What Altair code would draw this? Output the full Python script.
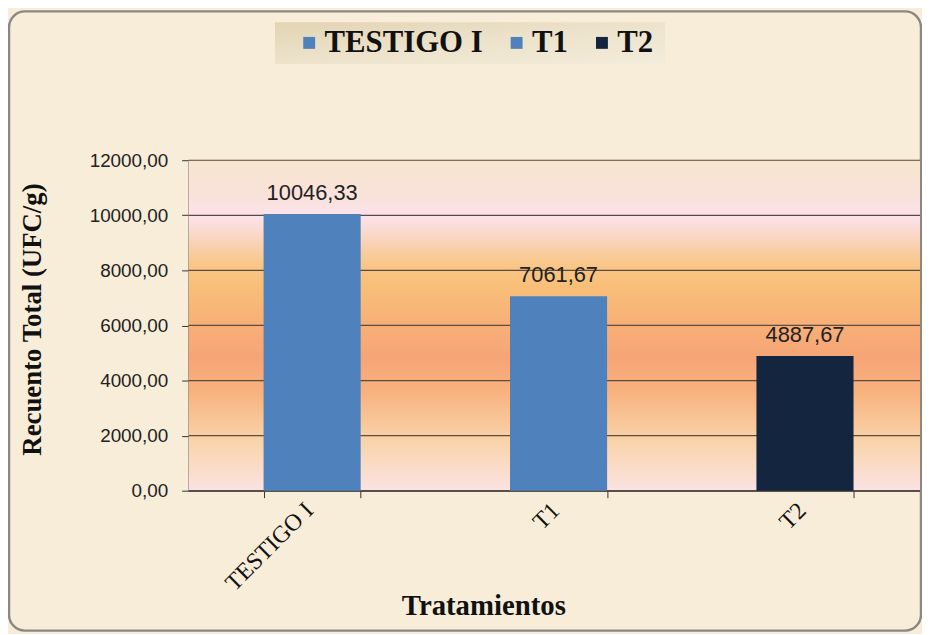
import altair as alt
import pandas as pd

categories = ["TESTIGO I", "T1", "T2"]
values = [10046.33, 7061.67, 4887.67]
bar_colors = ["#4F81BD", "#4F81BD", "#14263F"]
y_ticks = [0, 2000, 4000, 6000, 8000, 10000, 12000]

W, H = 737, 333

df = pd.DataFrame({"cat": categories, "val": values})
grid_df = pd.DataFrame({"val": y_ticks})
one = pd.DataFrame({"k": [0]})

x_scale = alt.Scale(domain=categories, paddingInner=0.606, paddingOuter=0.287, align=0.53)
y_scale = alt.Scale(domain=[0, 12000], nice=False)

y_axis = alt.Axis(
    title="Recuento Total (UFC/g)", values=y_ticks,
    labelExpr="replace(format(datum.value, '.2f'), '.', ',')",
    labelFont="Liberation Sans", labelFontSize=19, labelColor="#222222",
    tickSize=7, tickColor="#333333", domainColor="#333333", labelPadding=14,
    grid=False, titleFont="Liberation Serif", titleFontSize=27,
    titleFontWeight="bold", titleColor="#111111", titleAngle=-90,
    titleX=-157, titleY=160, titleAlign="center", titleBaseline="middle",
)
x_axis = alt.Axis(
    title="Tratamientos", labelAngle=-45, labelAlign="right", labelBaseline="middle",
    labelFont="Liberation Serif", labelFontSize=24, labelColor="#111111",
    labelOffset=-3,
    tickBand="extent", tickSize=7, tickColor="#333333", domainColor="#333333",
    labelPadding=9, grid=False,
    titleFont="Liberation Serif", titleFontSize=29, titleFontWeight="bold",
    titleColor="#111111", titleX=297, titleY=125, titleAlign="center",
    titleBaseline="alphabetic",
)

plot_grad = {
    "gradient": "linear", "x1": 0, "y1": 0, "x2": 0, "y2": 1,
    "stops": [
        {"offset": 0.0, "color": "#F7E6CE"},
        {"offset": 0.11, "color": "#FAE2DC"},
        {"offset": 0.17, "color": "#FCE2EA"},
        {"offset": 0.23, "color": "#FAD6C4"},
        {"offset": 0.31, "color": "#F8C78A"},
        {"offset": 0.38, "color": "#F8BF78"},
        {"offset": 0.5, "color": "#F7AF77"},
        {"offset": 0.6, "color": "#F6A576"},
        {"offset": 0.7, "color": "#F8B27E"},
        {"offset": 0.85, "color": "#F9D3AA"},
        {"offset": 1.0, "color": "#FBE3E3"},
    ],
}
legend_grad = {
    "gradient": "linear", "x1": 0, "y1": 0, "x2": 1, "y2": 1,
    "stops": [
        {"offset": 0.0, "color": "#E2D4B4"},
        {"offset": 0.5, "color": "#EDE3CB"},
        {"offset": 1.0, "color": "#F3ECDB"},
    ],
}

border = alt.Chart(one).mark_rect(
    filled=False, stroke="#8C8782", strokeWidth=2.5, cornerRadius=16
).encode(x=alt.value(-181), x2=alt.value(W + 1), y=alt.value(-150), y2=alt.value(H + 141))

plot_bg = alt.Chart(one).mark_rect(fill=plot_grad).encode(
    x=alt.value(0), x2=alt.value(W), y=alt.value(0), y2=alt.value(H)
)

legend_box = alt.Chart(one).mark_rect(fill=legend_grad).encode(
    x=alt.value(87), x2=alt.value(480), y=alt.value(-139), y2=alt.value(-97)
)

grid = alt.Chart(grid_df).mark_rule(color="#5B4C3F", strokeWidth=1.2).encode(
    y=alt.Y("val:Q", scale=y_scale, axis=y_axis)
)

bars = alt.Chart(df).mark_bar().encode(
    x=alt.X("cat:N", scale=x_scale, sort=categories, axis=x_axis),
    y=alt.Y("val:Q", scale=y_scale, axis=y_axis),
    color=alt.Color(
        "cat:N", scale=alt.Scale(domain=categories, range=bar_colors),
        legend=alt.Legend(
            title=None, orient="none", direction="horizontal",
            legendX=106, legendY=-134, symbolType="square", symbolSize=144,
            symbolStrokeWidth=0, symbolOpacity=1, labelFont="Liberation Serif",
            labelFontSize=31, labelFontWeight="bold", labelColor="#111111",
            labelOffset=0, labelLimit=400, columnPadding=18, padding=0,
        ),
    ),
)

labels = alt.Chart(df).transform_calculate(
    lbl="replace(format(datum.val, '.2f'), '.', ',')"
).mark_text(
    dy=-14, baseline="alphabetic", font="Liberation Sans", fontSize=22, color="#222222"
).encode(
    x=alt.X("cat:N", scale=x_scale, sort=categories, axis=x_axis),
    y=alt.Y("val:Q", scale=y_scale, axis=y_axis),
    text="lbl:N",
)

chart = alt.layer(border, plot_bg, legend_box, grid, bars, labels).properties(
    width=W, height=H,
    padding={"left": 182, "top": 151, "right": 2, "bottom": 142},
    autosize=alt.AutoSizeParams(type="none"),
    background="#F7EDD8",
).configure_view(stroke="#777777", strokeWidth=1)

chart.save("out.html", embed_options={"renderer": "svg", "actions": False})
